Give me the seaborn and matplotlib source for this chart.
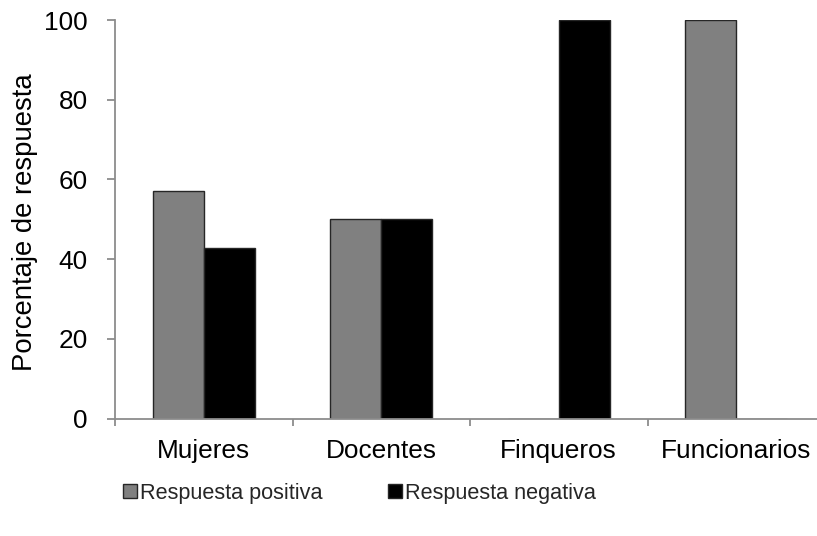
import matplotlib
matplotlib.use("Agg")
import matplotlib.pyplot as plt
from matplotlib.patches import Patch
from matplotlib.ticker import FixedLocator
import seaborn as sns
import pandas as pd

categories = ["Mujeres", "Docentes", "Finqueros", "Funcionarios"]
series_names = ["Respuesta positiva", "Respuesta negativa"]
positiva = [57.1, 50.0, 0.0, 100.0]
negativa = [42.9, 50.0, 100.0, 0.0]
y_ticks = [0, 20, 40, 60, 80, 100]
colors = ["#808080", "#000000"]

df = pd.DataFrame({
    "Grupo": categories * 2,
    "Serie": [series_names[0]] * len(categories) + [series_names[1]] * len(categories),
    "Porcentaje": positiva + negativa,
})

sns.set_theme(style="white")
plt.rcParams["font.family"] = ["Liberation Sans", "DejaVu Sans"]

fig = plt.figure(figsize=(8.17, 5.36), dpi=100)
ax = fig.add_axes([115 / 817, (536 - 418.5) / 536, 710 / 817, 398.5 / 536])

sns.barplot(data=df, x="Grupo", y="Porcentaje", hue="Serie",
            palette=colors, width=0.575, edgecolor="#262626", linewidth=1.0,
            saturation=1, legend=False, ax=ax)

ax.set_xlim(-0.5, 3.5)
ax.set_ylim(0, 100)
ax.set_yticks(y_ticks)
ax.set_xlabel("")
ax.set_ylabel("Porcentaje de respuesta", fontsize=19.8, color="black")
ax.yaxis.set_label_coords(-0.108, 0.493)

for side in ["top", "right"]:
    ax.spines[side].set_visible(False)
for side in ["left", "bottom"]:
    ax.spines[side].set_color("#8c8c8c")
    ax.spines[side].set_linewidth(1.3)

ax.tick_params(axis="y", which="major", length=5.8, width=1.3, color="#8c8c8c",
               direction="out", pad=14, labelsize=18.9, labelcolor="black", left=True)
ax.tick_params(axis="x", which="major", length=0, pad=15, labelsize=18.9, labelcolor="black")
ax.xaxis.set_minor_locator(FixedLocator([-0.5, 0.5, 1.5, 2.5, 3.5]))
ax.tick_params(axis="x", which="minor", length=5, width=1.3, color="#8c8c8c",
               direction="out", bottom=True)
ax.grid(False)

handles = [Patch(facecolor=c, edgecolor="#262626", linewidth=1.0) for c in colors]
fig.legend(handles, series_names, loc="center", ncol=2,
           bbox_to_anchor=(359.5 / 817, 1 - 493 / 536), frameon=False,
           prop={"family": ["Liberation Sans", "DejaVu Sans"], "size": 15.6},
           handlelength=0.65, handleheight=0.65,
           handletextpad=0.15, columnspacing=3.0, borderaxespad=0)

fig.savefig("out.png", dpi=100)
